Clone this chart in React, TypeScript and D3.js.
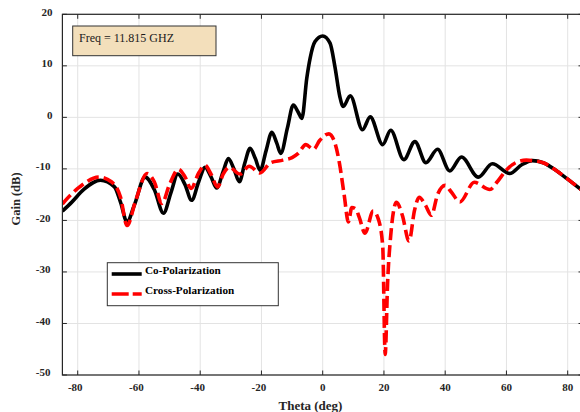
import React from 'react';
import * as d3 from 'd3';

const coTheta = [-85, -82, -78, -72.6, -68, -66, -63.9, -61.5, -58, -55, -52, -49.5, -47.3, -45, -42.8, -40.5, -38.4, -36.5, -34.6, -32.5, -30.8, -29, -27.2, -25.5, -23.7, -22, -20.4, -18.5, -16.6, -15, -13.7, -11.5, -9.6, -8, -6.8, -5.2, -4.1, -2.5, 0, 2.4, 4, 5.6, 6.7, 9, 13, 15.5, 19.6, 22.2, 26.5, 30.1, 33.7, 37.5, 41.5, 45.3, 50.8, 55.4, 61.1, 65, 68.5, 72, 76, 80, 85];
const coGain = [-18.2, -16.5, -14, -12.2, -13.5, -16.5, -20.3, -17, -11.6, -14, -18.6, -14.5, -11.0, -13, -16.1, -12.5, -9.7, -11.5, -13.7, -10.5, -8.0, -10, -12.5, -9, -6.0, -8, -10.3, -6.5, -2.9, -5, -7.0, -2, 2.4, 1, -0.2, 7.6, 11.5, 14.7, 15.8, 14.4, 9.8, 4.0, 2.1, 4.2, -2.4, 0.1, -5.3, -2.5, -8.2, -4.7, -8.8, -6.2, -10.4, -7.7, -11.6, -9.0, -10.9, -9.2, -8.4, -8.8, -10.2, -12, -14.3];

const crossTheta = [-85, -80, -73, -69, -66, -63.9, -61, -57.4, -55, -52.5, -50, -47.1, -45, -43, -40.5, -38.4, -36.5, -34.3, -32.5, -30.5, -27, -24, -20.5, -17, -13, -10, -8, -5.5, -3, -1, 2, 4, 5.5, 7, 8.4, 9.5, 10.8, 12, 13.8, 16.5, 18.2, 19.6, 20.4, 21.2, 22.2, 24.1, 26, 28.2, 30, 31.5, 33.5, 35.5, 37.5, 40, 42, 44.8, 49.5, 54.6, 57, 60, 63, 66.5, 68.5, 72, 76, 80, 85];
const crossGain = [-16.8, -13.8, -11.6, -12.5, -15.5, -21, -16, -10.9, -12.5, -16.7, -13, -10.1, -11.5, -13.8, -10.8, -9.3, -11, -13.5, -11, -9.7, -11, -9.5, -10.8, -8.8, -8.3, -7.8, -7.0, -5.3, -6.2, -4.5, -3.2, -5.0, -9, -15, -20.3, -17.5, -17.8, -19.5, -22.5, -18.2, -19.8, -25, -46, -32, -23, -16.5, -19, -24, -18, -15.5, -17, -19, -15, -13.2, -14.5, -16.4, -12.6, -14.0, -12.5, -10.2, -8.8, -8.3, -8.4, -8.8, -10.2, -12, -14.3];

const xTicks = [-80, -60, -40, -20, 0, 20, 40, 60, 80];
const yTicks = [20, 10, 0, -10, -20, -30, -40, -50];

const seriesNames = ['Co-Polarization', 'Cross-Polarization'];
const annotation = 'Freq = 11.815 GHZ';

export default function App() {
  const W = 580, H = 412;
  const left = 62.4, right = 583, top = 14.3, bottom = 375;
  const x = d3.scaleLinear().domain([-85, 85]).range([left, right]);
  const y = d3.scaleLinear().domain([-50, 20]).range([bottom, top]);
  const line = d3.line<[number, number]>()
    .x(d => x(d[0]))
    .y(d => y(d[1]))
    .curve(d3.curveMonotoneX);
  const coPath = line(coTheta.map((t, i) => [t, coGain[i]] as [number, number])) || '';
  const crossPath = line(crossTheta.map((t, i) => [t, crossGain[i]] as [number, number])) || '';
  const font = '"Liberation Serif", "Times New Roman", serif';
  const axisColor = '#262626';
  const gridColor = '#e3e3e3';

  return (
    <svg width={W} height={H} style={{ position: 'absolute', left: 0, top: 0, background: '#fff' }} fontFamily={font}>
      <defs>
        <clipPath id="plotclip">
          <rect x={left} y={top} width={right - left} height={bottom - top} />
        </clipPath>
      </defs>
      {/* grid */}
      {xTicks.map(t => (
        <line key={'gx' + t} x1={x(t)} x2={x(t)} y1={top} y2={bottom} stroke={gridColor} strokeWidth={1} />
      ))}
      {yTicks.map(t => (
        <line key={'gy' + t} x1={left} x2={right} y1={y(t)} y2={y(t)} stroke={gridColor} strokeWidth={1} />
      ))}
      {/* curves */}
      <g clipPath="url(#plotclip)">
        <path d={coPath} fill="none" stroke="#000" strokeWidth={3.6} strokeLinejoin="round" />
        <path d={crossPath} fill="none" stroke="#ff0000" strokeWidth={3.6} strokeDasharray="12,5" strokeLinejoin="round" />
      </g>
      {/* frame */}
      <rect x={left} y={top} width={right - left} height={bottom - top} fill="none" stroke={axisColor} strokeWidth={1.2} />
      {/* ticks */}
      {xTicks.map(t => (
        <g key={'tx' + t}>
          <line x1={x(t)} x2={x(t)} y1={bottom} y2={bottom - 4.5} stroke={axisColor} strokeWidth={1} />
          <line x1={x(t)} x2={x(t)} y1={top} y2={top + 4.5} stroke={axisColor} strokeWidth={1} />
          <text x={x(t) - (t < 0 ? 2.5 : 0)} y={390.5} textAnchor="middle" fontSize={11} fontWeight="bold" fill="#262626">{t}</text>
        </g>
      ))}
      {yTicks.map(t => (
        <g key={'ty' + t}>
          <line x1={left} x2={left + 4.5} y1={y(t)} y2={y(t)} stroke={axisColor} strokeWidth={1} />
          <line x1={right} x2={right - 4.5} y1={y(t)} y2={y(t)} stroke={axisColor} strokeWidth={1} />
          <text x={t < 0 ? 50.5 : 52.5} y={y(t) + 1.2} textAnchor="end" fontSize={11} fontWeight="bold" fill="#262626">{t}</text>
        </g>
      ))}
      {/* axis titles */}
      <text x={310.5} y={410} textAnchor="middle" fontSize={13} fontWeight="bold" fill="#262626">Theta (deg)</text>
      <text transform="translate(19.5,199) rotate(-90)" textAnchor="middle" fontSize={12.5} fontWeight="bold" fill="#262626">Gain (dB)</text>
      {/* annotation */}
      <rect x={72.7} y={26} width={143.3} height={29.7} fill="#f3dfbb" stroke="#333" strokeWidth={1} />
      <text x={79} y={41.8} fontSize={12} fill="#1a1a1a">{annotation}</text>
      {/* legend */}
      <rect x={107.3} y={262.7} width={171} height={43} fill="#fff" stroke="#333" strokeWidth={1} />
      <line x1={111.7} x2={141.7} y1={274} y2={274} stroke="#000" strokeWidth={3.6} />
      <line x1={111.7} x2={141.7} y1={294} y2={294} stroke="#ff0000" strokeWidth={3.6} strokeDasharray="17,4" />
      <text x={145} y={273.8} fontSize={11.2} fontWeight="bold" fill="#000">{seriesNames[0]}</text>
      <text x={145} y={293.8} fontSize={11.2} fontWeight="bold" fill="#000">{seriesNames[1]}</text>
    </svg>
  );
}
